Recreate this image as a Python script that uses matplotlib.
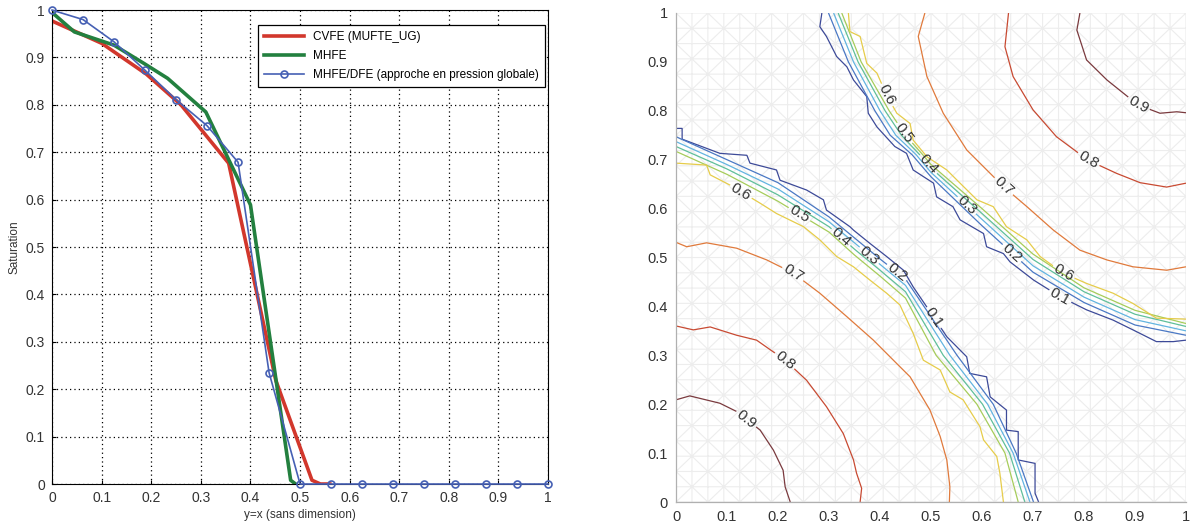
import numpy as np
import matplotlib
matplotlib.use('Agg')
import matplotlib.pyplot as plt
import matplotlib.tri as mtri
from matplotlib.contour import ContourSet

plt.rcParams['font.family'] = ['Liberation Sans', 'DejaVu Sans']

# ---- left panel: saturation profiles along y=x ----
x_cvfe = [0, 0.1, 0.19, 0.26, 0.356, 0.451, 0.524, 0.541, 0.56]
s_cvfe = [0.977, 0.93, 0.865, 0.80, 0.677, 0.219, 0.008, 0.0, 0.0]

x_mhfe = [0, 0.045, 0.125, 0.186, 0.233, 0.31, 0.40, 0.481, 0.491]
s_mhfe = [0.995, 0.954, 0.926, 0.887, 0.856, 0.785, 0.589, 0.008, 0.0]

x_dfe = [0, 0.0625, 0.125, 0.1875, 0.25, 0.3125, 0.375, 0.4375, 0.5,
         0.5625, 0.625, 0.6875, 0.75, 0.8125, 0.875, 0.9375, 1.0]
s_dfe = [1.0, 0.98, 0.933, 0.873, 0.811, 0.756, 0.679, 0.235, 0.0,
         0, 0, 0, 0, 0, 0, 0, 0]

tick_vals = [0, 0.1, 0.2, 0.3, 0.4, 0.5, 0.6, 0.7, 0.8, 0.9, 1]
tick_text = ['0', '0.1', '0.2', '0.3', '0.4', '0.5', '0.6', '0.7', '0.8', '0.9', '1']

# ---- right panel: contour lines of saturation ----
levels = [0.1, 0.2, 0.3, 0.4, 0.5, 0.6, 0.7, 0.8, 0.9]

# lower-left corner
ll_01 = [(0, 0.764), (0.012, 0.764), (0.012, 0.742), (0.086, 0.713), (0.139, 0.709),
         (0.145, 0.693), (0.197, 0.679), (0.204, 0.658), (0.256, 0.638), (0.289, 0.618),
         (0.295, 0.597), (0.341, 0.563), (0.348, 0.556), (0.38, 0.529), (0.413, 0.502),
         (0.446, 0.474), (0.465, 0.44), (0.478, 0.42), (0.504, 0.38), (0.531, 0.338),
         (0.57, 0.297), (0.576, 0.263), (0.609, 0.256), (0.616, 0.215), (0.648, 0.188),
         (0.648, 0.147), (0.671, 0.144), (0.671, 0.086), (0.704, 0.079), (0.704, 0.018),
         (0.711, 0)]
ll_02 = [(0, 0.747), (0.1, 0.70), (0.2, 0.653), (0.3, 0.583), (0.35, 0.54), (0.4, 0.497),
         (0.45, 0.456), (0.551, 0.3), (0.622, 0.2), (0.667, 0.1), (0.701, 0)]
ll_03 = [(0, 0.737), (0.1, 0.69), (0.2, 0.64), (0.3, 0.573), (0.35, 0.53), (0.4, 0.486),
         (0.45, 0.443), (0.537, 0.3), (0.611, 0.2), (0.661, 0.1), (0.694, 0)]
ll_04 = [(0, 0.727), (0.1, 0.681), (0.2, 0.628), (0.3, 0.563), (0.35, 0.517), (0.4, 0.474),
         (0.45, 0.43), (0.524, 0.3), (0.601, 0.2), (0.654, 0.1), (0.684, 0)]
ll_05 = [(0, 0.717), (0.1, 0.67), (0.2, 0.615), (0.3, 0.552), (0.35, 0.505), (0.4, 0.462),
         (0.45, 0.417), (0.51, 0.3), (0.59, 0.2), (0.645, 0.1), (0.671, 0)]
ll_06 = [(0, 0.693), (0.06, 0.689), (0.067, 0.669), (0.106, 0.648), (0.165, 0.611),
         (0.197, 0.59), (0.25, 0.563), (0.282, 0.536), (0.315, 0.502), (0.348, 0.481),
         (0.38, 0.454), (0.413, 0.427), (0.439, 0.403), (0.465, 0.345), (0.485, 0.29),
         (0.518, 0.27), (0.537, 0.225), (0.563, 0.209), (0.596, 0.154), (0.603, 0.127),
         (0.629, 0.093), (0.635, 0.059), (0.642, 0)]
ll_07 = [(0, 0.531), (0.021, 0.522), (0.06, 0.53), (0.119, 0.519), (0.178, 0.495),
         (0.23, 0.468), (0.282, 0.427), (0.335, 0.379), (0.387, 0.331), (0.432, 0.284),
         (0.459, 0.256), (0.498, 0.188), (0.518, 0.134), (0.531, 0.086), (0.537, 0.031),
         (0.536, 0)]
ll_08 = [(0, 0.36), (0.034, 0.352), (0.067, 0.358), (0.119, 0.341), (0.158, 0.331),
         (0.214, 0.29), (0.256, 0.249), (0.295, 0.195), (0.328, 0.14), (0.348, 0.086),
         (0.354, 0.059), (0.364, 0.028), (0.361, 0)]
ll_09 = [(0, 0.209), (0.027, 0.217), (0.086, 0.202), (0.119, 0.185), (0.165, 0.147),
         (0.191, 0.106), (0.21, 0.065), (0.214, 0.031), (0.224, 0)]

# upper-right corner
ur_01 = [(0.286, 1.0), (0.282, 0.972), (0.295, 0.952), (0.315, 0.911), (0.335, 0.89),
         (0.348, 0.863), (0.374, 0.829), (0.377, 0.795), (0.394, 0.767), (0.429, 0.727),
         (0.452, 0.713), (0.465, 0.679), (0.505, 0.652), (0.511, 0.624), (0.543, 0.604),
         (0.557, 0.577), (0.603, 0.549), (0.609, 0.522), (0.642, 0.508), (0.655, 0.491),
         (0.701, 0.454), (0.753, 0.42), (0.805, 0.393), (0.857, 0.372), (0.896, 0.352),
         (0.942, 0.328), (0.975, 0.328), (1.0, 0.331)]
ur_02 = [(0.299, 1.0), (0.338, 0.9), (0.39, 0.8), (0.42, 0.75), (0.463, 0.71), (0.5, 0.665),
         (0.6, 0.565), (0.7, 0.47), (0.8, 0.408), (0.9, 0.362), (1.0, 0.341)]
ur_03 = [(0.309, 1.0), (0.348, 0.9), (0.40, 0.8), (0.431, 0.75), (0.471, 0.71), (0.5, 0.674),
         (0.6, 0.578), (0.7, 0.483), (0.8, 0.419), (0.9, 0.373), (1.0, 0.35)]
ur_04 = [(0.318, 1.0), (0.357, 0.9), (0.41, 0.8), (0.442, 0.75), (0.478, 0.71), (0.5, 0.683),
         (0.6, 0.59), (0.7, 0.496), (0.8, 0.43), (0.9, 0.384), (1.0, 0.359)]
ur_05 = [(0.325, 1.0), (0.363, 0.9), (0.418, 0.8), (0.45, 0.75), (0.484, 0.71), (0.5, 0.69),
         (0.6, 0.60), (0.7, 0.507), (0.8, 0.438), (0.9, 0.392), (1.0, 0.365)]
ur_06 = [(0.338, 1.0), (0.341, 0.962), (0.361, 0.952), (0.374, 0.897), (0.394, 0.877),
         (0.413, 0.832), (0.433, 0.795), (0.459, 0.774), (0.465, 0.74), (0.492, 0.706),
         (0.531, 0.679), (0.557, 0.652), (0.59, 0.618), (0.622, 0.604), (0.648, 0.563),
         (0.688, 0.536), (0.714, 0.502), (0.759, 0.468), (0.805, 0.447), (0.857, 0.427),
         (0.896, 0.406), (0.942, 0.376), (1.0, 0.374)]
ur_07 = [(0.488, 1.0), (0.475, 0.952), (0.492, 0.87), (0.524, 0.795), (0.57, 0.72),
         (0.642, 0.645), (0.688, 0.604), (0.74, 0.556), (0.792, 0.515), (0.845, 0.495),
         (0.896, 0.481), (0.962, 0.474), (1.0, 0.481)]
ur_08 = [(0.652, 1.0), (0.645, 0.931), (0.661, 0.87), (0.70, 0.802), (0.746, 0.747),
         (0.808, 0.699), (0.864, 0.672), (0.91, 0.653), (0.962, 0.644), (1.0, 0.652)]
ur_09 = [(0.792, 1.0), (0.786, 0.965), (0.805, 0.904), (0.845, 0.863), (0.906, 0.812),
         (0.949, 0.795), (0.982, 0.798), (1.0, 0.796)]

lower_left = [ll_01, ll_02, ll_03, ll_04, ll_05, ll_06, ll_07, ll_08, ll_09]
upper_right = [ur_01, ur_02, ur_03, ur_04, ur_05, ur_06, ur_07, ur_08, ur_09]

level_colors = ['#3d4a98', '#4a78c4', '#62b4e0', '#5fbf9a', '#a6cc5a',
                '#e6cc4a', '#e07a3c', '#c84a32', '#7a3a3e']

# where the labels sit (approximate, snapped onto their own curve below)
ll_label_at = [(0.504, 0.376), (0.42, 0.454), (0.367, 0.491), (0.312, 0.529), (0.243, 0.59),
               (0.125, 0.631), (0.23, 0.468), (0.214, 0.29), (0.139, 0.171)]
ur_label_at = [(0.753, 0.42), (0.649, 0.499), (0.561, 0.597), (0.488, 0.685), (0.449, 0.755),
               (0.413, 0.832), (0.642, 0.645), (0.808, 0.699), (0.906, 0.812)]
ur_extra_label = (0.759, 0.468)   # second "0.6" on the upper-right front


def snap(curve, p):
    # closest point on a polyline
    pts = np.asarray(curve, dtype=float)
    best, best_d = None, np.inf
    for a, b in zip(pts[:-1], pts[1:]):
        ab = b - a
        t = np.clip(np.dot(np.asarray(p) - a, ab) / max(np.dot(ab, ab), 1e-12), 0, 1)
        q = a + t * ab
        d = np.hypot(*(q - p))
        if d < best_d:
            best, best_d = q, d
    return tuple(best)


fig = plt.figure(figsize=(11.91, 5.26), dpi=100)

# ---------------- left ----------------
ax1 = fig.add_axes([0.0437, 0.0798, 0.4165, 0.901])
ax1.plot(x_cvfe, s_cvfe, color='#d2372c', lw=2.6, label='CVFE (MUFTE_UG)')
ax1.plot(x_mhfe, s_mhfe, color='#23803f', lw=2.6, label='MHFE')
ax1.plot(x_dfe, s_dfe, color='#4660b4', lw=1.2, marker='o', markersize=5,
         markerfacecolor='none', markeredgewidth=1.2, clip_on=False, zorder=5,
         label='MHFE/DFE (approche en pression globale)')
ax1.set_xlim(0, 1)
ax1.set_ylim(0, 1)
ax1.set_xticks(tick_vals)
ax1.set_xticklabels(tick_text)
ax1.set_yticks(tick_vals)
ax1.set_yticklabels(tick_text)
ax1.grid(True, color='black', linestyle=(0, (1, 2.5)), linewidth=0.9)
ax1.tick_params(direction='in', length=3, labelsize=10, labelcolor='#333333', pad=5)
for sp in ax1.spines.values():
    sp.set_linewidth(0.8)
ax1.set_xlabel('y=x (sans dimension)', fontsize=8.5, color='#333333', labelpad=3)
ax1.set_ylabel('Saturation', fontsize=8.5, color='#333333', labelpad=4)
leg = ax1.legend(loc='upper right', bbox_to_anchor=(0.994, 0.968), borderaxespad=0,
                 fontsize=8.5, fancybox=False, edgecolor='black', framealpha=1,
                 handlelength=3.4, borderpad=0.5, labelspacing=0.6)
leg.get_frame().set_linewidth(0.9)

# ---------------- right ----------------
ax2 = fig.add_axes([0.5676, 0.0456, 0.4282, 0.9297])
ax2.set_xlim(0, 1)
ax2.set_ylim(0, 1)

# background triangular mesh (32 x 32 squares, alternating diagonals)
n = 32
gx, gy = np.meshgrid(np.linspace(0, 1, n + 1), np.linspace(0, 1, n + 1))
tris = []
for j in range(n):
    for i in range(n):
        a = j * (n + 1) + i
        b, c, d = a + 1, a + n + 1, a + n + 2
        if (i + j) % 2 == 0:
            tris += [[a, b, d], [a, d, c]]
        else:
            tris += [[a, b, c], [b, d, c]]
mesh = mtri.Triangulation(gx.ravel(), gy.ravel(), np.array(tris))
ax2.triplot(mesh, color='#ededed', lw=0.8, zorder=1)

allsegs = [[np.array(lower_left[k]), np.array(upper_right[k])] for k in range(len(levels))]
cs = ContourSet(ax2, levels, allsegs, colors=level_colors, linewidths=0.9)

manual = [snap(lower_left[k], ll_label_at[k]) for k in range(len(levels))]
manual += [snap(upper_right[k], ur_label_at[k]) for k in range(len(levels))]
manual.append(snap(ur_06, ur_extra_label))
ax2.clabel(cs, manual=manual, inline=True, inline_spacing=2, fontsize=11,
           colors='#333333', fmt='%g')

ax2.set_xticks(tick_vals)
ax2.set_xticklabels(tick_text)
ax2.set_yticks(tick_vals)
ax2.set_yticklabels(tick_text)
ax2.tick_params(length=0, labelsize=10.5, labelcolor='#333333', pad=6)
for side in ['top', 'right']:
    ax2.spines[side].set_visible(False)
for side in ['left', 'bottom']:
    ax2.spines[side].set_color('#b0b0b0')
    ax2.spines[side].set_linewidth(0.9)

fig.savefig('out.png', dpi=100)
